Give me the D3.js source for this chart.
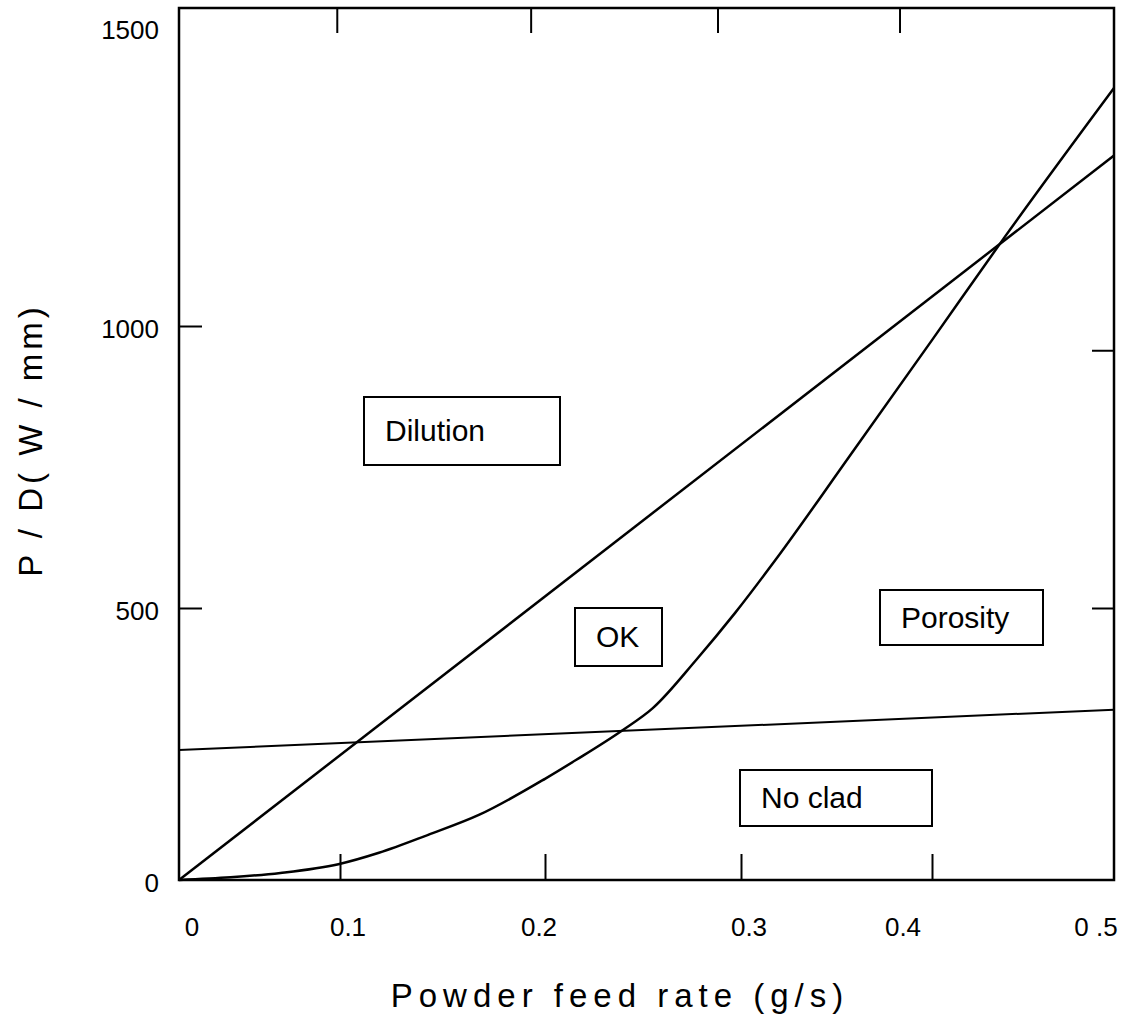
<!DOCTYPE html>
<html>
<head>
<meta charset="utf-8">
<script src="https://cdn.jsdelivr.net/npm/d3@7"></script>
<style>
body { margin: 0; background: #fff; }
text { font-family: "Liberation Sans", Arial, sans-serif; fill: #000; }
</style>
</head>
<body>
<div id="chart"></div>
<script>
// axis values
var xTickValues = [0, 0.1, 0.2, 0.3, 0.4, 0.5];
var xTickLabels = ['0', '0.1', '0.2', '0.3', '0.4', '0 .5'];
var yTickValues = [0, 500, 1000, 1500];
var yTickLabels = ['0', '500', '1000', '1500'];
var bottomTickValues = [0.1, 0.2, 0.3, 0.4];
var topTickValues = [0.098, 0.193, 0.288, 0.383];
var leftTickValues = [500, 1000];
var rightTickValues = [500, 957];

// porosity boundary (curve)
var curveX = [0, 0.032, 0.063, 0.099, 0.119, 0.143, 0.168, 0.2, 0.216, 0.239, 0.255, 0.277, 0.297, 0.318, 0.357, 0.4, 0.44, 0.5];
var curveY = [0, 5, 13, 29, 50, 83, 120, 186, 221, 274, 316, 404, 491, 585, 770, 975, 1149, 1398];

// straight boundaries
var dilutionX = [0, 0.5];
var dilutionY = [0, 1285];
var noCladX = [0, 0.5];
var noCladY = [239, 313];

var regionNames = ['Dilution', 'OK', 'Porosity', 'No clad'];

var width = 1122, height = 1015;
var frame = { left: 179, right: 1114, top: 8, bottom: 880 };

var svg = d3.select('#chart')
    .append('svg')
    .attr('width', width)
    .attr('height', height);

// the original axes are not evenly spaced, so the scales are piecewise
var x = d3.scaleLinear()
    .domain(xTickValues)
    .range([179, 340, 545, 741, 932, 1114]);

var xText = d3.scaleLinear()
    .domain(xTickValues)
    .range([192, 348, 539, 749, 903, 1096]);

var y = d3.scaleLinear()
    .domain(yTickValues)
    .range([880, 608, 326, 27]);

// frame
svg.append('rect')
    .attr('x', frame.left)
    .attr('y', frame.top)
    .attr('width', frame.right - frame.left)
    .attr('height', frame.bottom - frame.top)
    .attr('fill', 'none')
    .attr('stroke', '#000')
    .attr('stroke-width', 2.5);

function tickStyle(g) {
    g.select('.domain').remove();
    g.selectAll('.tick line').attr('stroke', '#000').attr('stroke-width', 2);
    g.selectAll('.tick text').remove();
}

svg.append('g')
    .attr('transform', `translate(0,${frame.bottom})`)
    .call(d3.axisTop(x).tickValues(bottomTickValues).tickSize(26))
    .call(tickStyle);

svg.append('g')
    .attr('transform', `translate(0,${frame.top})`)
    .call(d3.axisBottom(x).tickValues(topTickValues).tickSize(25))
    .call(tickStyle);

svg.append('g')
    .attr('transform', `translate(${frame.left},0)`)
    .call(d3.axisRight(y).tickValues(leftTickValues).tickSize(23))
    .call(tickStyle);

svg.append('g')
    .attr('transform', `translate(${frame.right},0)`)
    .call(d3.axisLeft(y).tickValues(rightTickValues).tickSize(22))
    .call(tickStyle);

// tick labels
svg.append('g')
    .selectAll('text')
    .data(xTickValues)
    .join('text')
    .attr('x', d => xText(d))
    .attr('y', 936)
    .attr('text-anchor', 'middle')
    .attr('font-size', 26)
    .text((d, i) => xTickLabels[i]);

svg.append('g')
    .selectAll('text')
    .data(yTickValues)
    .join('text')
    .attr('x', 159)
    .attr('y', d => y(d) + 3)
    .attr('dy', '0.36em')
    .attr('text-anchor', 'end')
    .attr('font-size', 26)
    .text((d, i) => yTickLabels[i]);

// boundaries
var line = d3.line()
    .x(d => x(d[0]))
    .y(d => y(d[1]));

svg.append('path')
    .datum(d3.zip(dilutionX, dilutionY))
    .attr('d', line)
    .attr('fill', 'none')
    .attr('stroke', '#000')
    .attr('stroke-width', 2.5);

svg.append('path')
    .datum(d3.zip(noCladX, noCladY))
    .attr('d', line)
    .attr('fill', 'none')
    .attr('stroke', '#000')
    .attr('stroke-width', 2);

svg.append('path')
    .datum(d3.zip(curveX, curveY))
    .attr('d', line.curve(d3.curveMonotoneX))
    .attr('fill', 'none')
    .attr('stroke', '#000')
    .attr('stroke-width', 2.5);

// region labels in boxes
var boxes = [
    { x: 364, y: 397, w: 196, h: 68 },
    { x: 575, y: 608, w: 87, h: 58 },
    { x: 880, y: 590, w: 163, h: 55 },
    { x: 740, y: 770, w: 192, h: 56 }
];

var region = svg.append('g')
    .selectAll('g')
    .data(regionNames)
    .join('g')
    .attr('transform', (d, i) => `translate(${boxes[i].x},${boxes[i].y})`);

region.append('rect')
    .attr('width', (d, i) => boxes[i].w)
    .attr('height', (d, i) => boxes[i].h)
    .attr('fill', '#fff')
    .attr('stroke', '#000')
    .attr('stroke-width', 2);

region.append('text')
    .attr('x', 21)
    .attr('y', (d, i) => boxes[i].h / 2)
    .attr('dy', '0.34em')
    .attr('font-size', 30)
    .text(d => d);

// axis titles
svg.append('text')
    .attr('x', 620)
    .attr('y', 1007)
    .attr('text-anchor', 'middle')
    .attr('font-size', 33)
    .attr('letter-spacing', 6)
    .text('Powder feed rate  (g/s)');

svg.append('text')
    .attr('transform', 'translate(42,440) rotate(-90)')
    .attr('text-anchor', 'middle')
    .attr('font-size', 33)
    .attr('letter-spacing', 4)
    .text('P / D( W / mm)');
</script>
</body>
</html>
